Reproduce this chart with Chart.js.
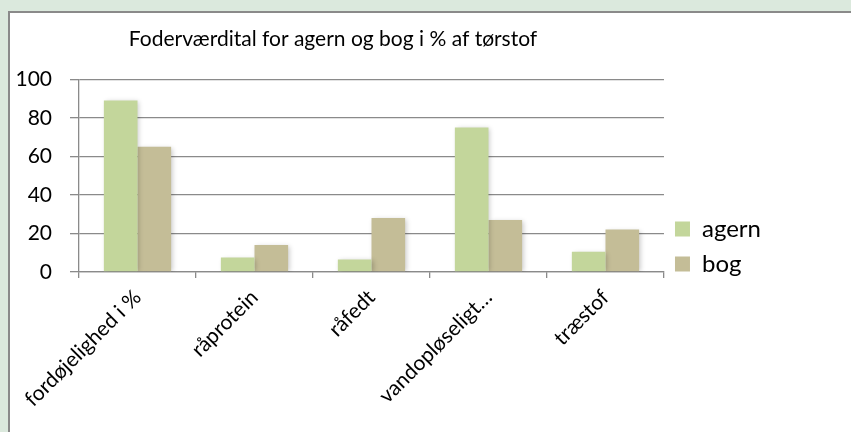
<!DOCTYPE html>
<html>
<head>
<meta charset="utf-8">
<script src="https://cdn.jsdelivr.net/npm/chart.js@4/dist/chart.umd.min.js"></script>
<style>
  html, body { margin: 0; padding: 0; background: #dbe9dd; }
  #frame {
    position: absolute; left: 8px; top: 11px;
    width: 843px; height: 421px;
    background: #fff;
    border-left: 2px solid #8a8a8a;
    border-top: 2px solid #8a8a8a;
  }
  #chart { display: block; }
</style>
</head>
<body>
<div id="frame"><canvas id="chart" width="841" height="419"></canvas></div>
<script>
const categories = ["fordøjelighed i %", "råprotein", "råfedt", "vandopløseligt…", "træstof"];
const agern = [89, 7.5, 6.5, 75, 10.5];
const bog = [65, 14, 28, 27, 22];
const yMin = 0, yMax = 100, yStep = 20;
const titleText = "Foderværdital for agern og bog i % af tørstof";

const FONT = "Lato";
const gridColor = "#8a8a8a";

// soft drop shadow under the bars, like the spreadsheet chart
const barShadow = {
    id: "barShadow",
    beforeDatasetsDraw(chart) {
        const c = chart.ctx;
        c.save();
        c.shadowColor = "rgba(0,0,0,0.22)";
        c.shadowBlur = 5;
        c.shadowOffsetX = 2;
        c.shadowOffsetY = 1;
    },
    afterDatasetsDraw(chart) {
        chart.ctx.restore();
    }
};

// title is left of centre and legend sits low in the original
const boxPlace = {
    id: "boxPlace",
    afterLayout(chart) {
        if (chart.titleBlock) {
            chart.titleBlock.left = 0;
            chart.titleBlock.right = 646;
        }
        if (chart.legend) {
            chart.legend.top += 15;
            chart.legend.bottom += 15;
        }
    }
};

new Chart(document.getElementById("chart").getContext("2d"), {
    type: "bar",
    data: {
        labels: categories,
        datasets: [
            { label: "agern", data: agern, backgroundColor: "#c3d69b" },
            { label: "bog", data: bog, backgroundColor: "#c4bd97" }
        ]
    },
    options: {
        responsive: false,
        animation: false,
        devicePixelRatio: 1,
        layout: { padding: { left: 0, right: 80, top: 0, bottom: 0 } },
        datasets: { bar: { categoryPercentage: 0.575, barPercentage: 1 } },
        plugins: {
            tooltip: { enabled: false },
            title: {
                display: true,
                text: titleText,
                color: "#000",
                font: { family: FONT, size: 21, weight: "normal" },
                padding: { top: 14, bottom: 27 }
            },
            legend: {
                position: "right",
                align: "end",
                fullSize: false,
                labels: {
                    color: "#000",
                    font: { family: FONT, size: 24 },
                    boxWidth: 15,
                    boxHeight: 15,
                    padding: 11
                }
            }
        },
        scales: {
            x: {
                grid: {
                    drawOnChartArea: false,
                    drawTicks: true,
                    tickLength: 6,
                    color: gridColor,
                    lineWidth: 1.3
                },
                border: { display: true, color: gridColor, width: 1.3 },
                ticks: {
                    color: "#000",
                    font: { family: FONT, size: 21 },
                    autoSkip: false,
                    minRotation: 45,
                    maxRotation: 45,
                    padding: 7
                },
                afterFit(scale) { scale.height = 160; }
            },
            y: {
                min: yMin,
                max: yMax,
                grid: { color: gridColor, lineWidth: 1.3, tickLength: 9 },
                border: { display: true, color: gridColor, width: 1.3 },
                ticks: {
                    stepSize: yStep,
                    color: "#000",
                    font: { family: FONT, size: 21 },
                    padding: 18
                },
                afterFit(scale) { scale.width = 69; }
            }
        }
    },
    plugins: [barShadow, boxPlace]
});
</script>
</body>
</html>
